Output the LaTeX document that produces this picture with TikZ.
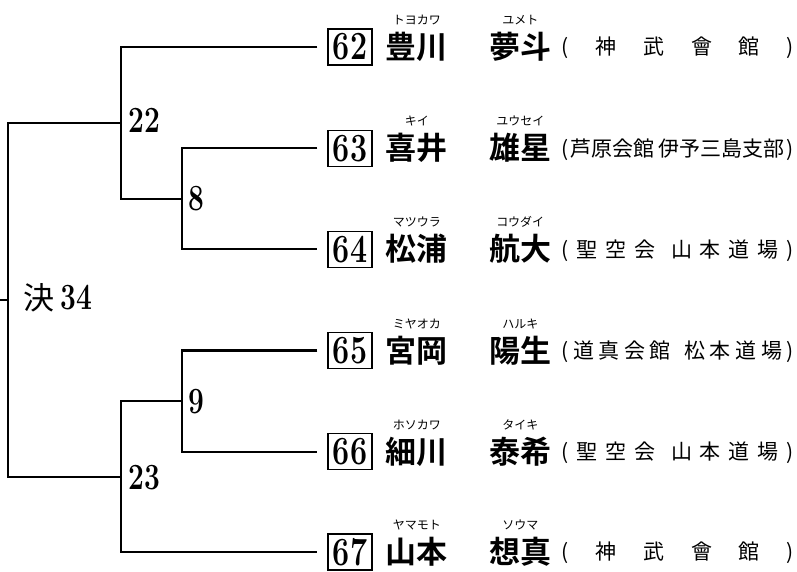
\documentclass[tikz,border=0pt]{standalone}
\usepackage{fontspec}
\newfontfamily\jpfont{Noto Sans CJK JP}[BoldFont={* Bold}]
\usetikzlibrary{positioning}
\tikzset{
  bracket/.style={draw, line width=2.2pt},
  numbox/.style={draw, line width=1.3pt, inner sep=0pt, minimum width=44pt, minimum height=36pt, font=\bfseries\fontsize{40}{40}\selectfont},
  person/.style={inner sep=0pt, text height=27pt, text depth=4pt, font=\jpfont\bfseries\fontsize{31}{31}\selectfont},
  kana/.style={inner sep=0pt, text height=10.5pt, text depth=1.5pt, font=\jpfont\fontsize{12}{12}\selectfont},
  club/.style={inner sep=0pt, text height=18.5pt, text depth=2.5pt, font=\jpfont\fontsize{21}{21}\selectfont},
  score/.style={inner sep=0pt, font=\bfseries\fontsize{37}{37}\selectfont},
}
\newcommand{\narrow}[1]{\scalebox{0.76}[1]{#1}}
\newcommand{\clubline}[1]{\hbox to 232pt{#1}}
\begin{document}
\begin{tikzpicture}[x=1pt, y=1pt]
\useasboundingbox (0,0) rectangle (797,572);
% entries
\node[numbox] (b62) at (350,525) {\narrow{62}};
\node[person, right=13pt of b62] (s62) {豊川};
\node[person, right=41pt of s62] (g62) {夢斗};
\node[kana, above=5pt of s62] (ks62) {トヨカワ};
\node[kana, above=5pt of g62] (kg62) {ユメト};
\node[club, right=10pt of g62] (c62) {\clubline{(\hfil 神\hfil 武\hfil 會\hfil 館\hfil )}};

\node[numbox] (b63) at (350,423.8) {\narrow{63}};
\node[person, right=13pt of b63] (s63) {喜井};
\node[person, right=41pt of s63] (g63) {雄星};
\node[kana, above=5pt of s63] (ks63) {キイ};
\node[kana, above=5pt of g63] (kg63) {ユウセイ};
\node[club, right=10pt of g63] (c63) {\clubline{(\hfil 芦原会館\hfil\hfil 伊予三島支部\hfil )}};

\node[numbox] (b64) at (350,322.6) {\narrow{64}};
\node[person, right=13pt of b64] (s64) {松浦};
\node[person, right=41pt of s64] (g64) {航大};
\node[kana, above=5pt of s64] (ks64) {マツウラ};
\node[kana, above=5pt of g64] (kg64) {コウダイ};
\node[club, right=10pt of g64] (c64) {\clubline{(\hfil 聖\hfil 空\hfil 会\hfil\hfil 山\hfil 本\hfil 道\hfil 場\hfil )}};

\node[numbox] (b65) at (350,221.4) {\narrow{65}};
\node[person, right=13pt of b65] (s65) {宮岡};
\node[person, right=41pt of s65] (g65) {陽生};
\node[kana, above=5pt of s65] (ks65) {ミヤオカ};
\node[kana, above=5pt of g65] (kg65) {ハルキ};
\node[club, right=10pt of g65] (c65) {\clubline{(\hfil 道\hfil 真\hfil 会\hfil 館\hfil\hfil\hfil 松\hfil 本\hfil 道\hfil 場\hfil )}};

\node[numbox] (b66) at (350,120.2) {\narrow{66}};
\node[person, right=13pt of b66] (s66) {細川};
\node[person, right=41pt of s66] (g66) {泰希};
\node[kana, above=5pt of s66] (ks66) {ホソカワ};
\node[kana, above=5pt of g66] (kg66) {タイキ};
\node[club, right=10pt of g66] (c66) {\clubline{(\hfil 聖\hfil 空\hfil 会\hfil\hfil 山\hfil 本\hfil 道\hfil 場\hfil )}};

\node[numbox] (b67) at (350,20) {\narrow{67}};
\node[person, right=13pt of b67] (s67) {山本};
\node[person, right=41pt of s67] (g67) {想真};
\node[kana, above=5pt of s67] (ks67) {ヤマモト};
\node[kana, above=5pt of g67] (kg67) {ソウマ};
\node[club, right=10pt of g67] (c67) {\clubline{(\hfil 神\hfil 武\hfil 會\hfil 館\hfil )}};

% bracket
\coordinate (j8) at (182,373.2);
\coordinate (j22) at (121,449.1);
\coordinate (j9) at (182,170.8);
\coordinate (j23) at (121,94.9);
\coordinate (j34) at (8,272);
\coordinate (root) at (0,272);
\path[bracket] ([xshift=-10pt]b62.west) -| (j22) |- (j8);
\path[bracket] ([xshift=-10pt]b63.west) -| (j8) |- ([xshift=-10pt]b64.west);
\path[bracket] ([xshift=-10pt]b65.west) -| (j9) |- ([xshift=-10pt]b66.west);
\path[bracket] (j9) -| (j23) |- ([xshift=-10pt]b67.west);
\path[bracket] (j22) -| (j34) |- (j23);
\path[bracket] (root) -- (j34);

% match numbers
\node[score, right=7pt of j22, yshift=3pt] (n22) {\narrow{22}};
\node[score, right=6pt of j8] (n8) {\narrow{8}};
\node[score, right=15pt of j34, yshift=2pt] (n34) {{\jpfont\mdseries\fontsize{31}{31}\selectfont 決}\,\narrow{34}};
\node[score, right=6pt of j9] (n9) {\narrow{9}};
\node[score, right=7pt of j23] (n23) {\narrow{23}};
\end{tikzpicture}
\end{document}
